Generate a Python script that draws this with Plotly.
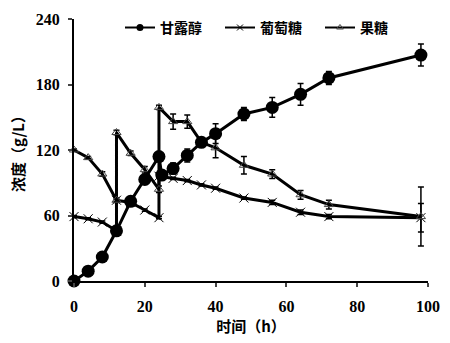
import plotly.graph_objects as go

# 甘露醇 (mannitol)
t_man = [0, 4, 8, 12, 16, 20, 24, 24.8, 28, 32, 36, 40, 48, 56, 64, 72, 98]
v_man = [0, 9, 22, 46, 73, 93, 114, 97, 103, 115, 127, 135, 153, 159, 171, 186, 207]
e_man = [1, 1, 1, 2, 2, 4, 2, 2, 5, 6, 3, 9, 6, 9, 10, 6, 10]

# 葡萄糖 (glucose)
t_glu = [0, 4, 8, 12, 12, 16, 20, 24, 24, 28, 32, 36, 40, 48, 56, 64, 72, 98]
v_glu = [59, 57, 54, 46, 74, 72, 65, 58, 96, 94, 92, 88, 85, 76, 72, 63, 59, 58]
e_glu = [1, 1, 1, 1, 1, 1, 1, 1, 1, 1, 1, 1, 1, 1, 2, 2, 2, 13]

# 果糖 (fructose)
t_fru = [0, 4, 8, 12, 12, 16, 20, 24, 24, 28, 32, 36, 40, 48, 56, 64, 72, 98]
v_fru = [120, 113, 98, 74, 136, 117, 102, 84, 159, 146, 146, 127, 122, 106, 98, 79, 70, 59]
e_fru = [1, 1, 2, 2, 2, 2, 3, 3, 2, 7, 6, 3, 9, 8, 4, 4, 4, 27]

names = ["甘露醇", "葡萄糖", "果糖"]
xticks = [0, 20, 40, 60, 80, 100]
yticks = [0, 60, 120, 180, 240]

num_font = "Liberation Serif, Noto Sans CJK SC"
cjk_font = "Noto Sans CJK SC, Liberation Serif"

fig = go.Figure()
fig.add_trace(go.Scatter(
    x=t_glu, y=v_glu, name=names[1], mode="lines+markers", showlegend=False,
    line=dict(color="black", width=3),
    marker=dict(symbol="x-thin-open", size=9, line=dict(color="#555555", width=1)),
    error_y=dict(type="data", array=e_glu, color="black", thickness=1.5, width=3),
    cliponaxis=False))
fig.add_trace(go.Scatter(
    x=t_fru, y=v_fru, name=names[2], mode="lines+markers", showlegend=False,
    line=dict(color="black", width=3),
    marker=dict(symbol="triangle-up-open", size=8, color="#444444", line=dict(width=1)),
    error_y=dict(type="data", array=e_fru, color="black", thickness=1.5, width=3),
    cliponaxis=False))
fig.add_trace(go.Scatter(
    x=t_man, y=v_man, name=names[0], mode="lines+markers", showlegend=False,
    line=dict(color="black", width=3),
    marker=dict(symbol="circle", size=13, color="black"),
    error_y=dict(type="data", array=e_man, color="black", thickness=1.5, width=3),
    cliponaxis=False))

# legend-only entries (smaller symbols, like the reference), one legend each
fig.add_trace(go.Scatter(x=[None], y=[None], name=names[0], mode="lines+markers", legend="legend",
                         line=dict(color="black", width=2),
                         marker=dict(symbol="circle", size=7, color="black")))
fig.add_trace(go.Scatter(x=[None], y=[None], name=names[1], mode="lines+markers", legend="legend2",
                         line=dict(color="black", width=2),
                         marker=dict(symbol="x-thin-open", size=6, line=dict(color="#555555", width=1))))
fig.add_trace(go.Scatter(x=[None], y=[None], name=names[2], mode="lines+markers", legend="legend3",
                         line=dict(color="black", width=2),
                         marker=dict(symbol="triangle-up-open", size=6, color="#444444", line=dict(width=1))))

leg_common = dict(orientation="h", y=0.966, xanchor="left", yanchor="middle",
                  font=dict(family=cjk_font, size=14, color="black", weight="bold"),
                  itemwidth=30, bgcolor="rgba(0,0,0,0)")

fig.update_layout(
    width=450, height=343,
    margin=dict(l=74, r=22, t=14, b=62),
    paper_bgcolor="white", plot_bgcolor="white",
    showlegend=True,
    legend=dict(x=0.1299, **leg_common),
    legend2=dict(x=0.4124, **leg_common),
    legend3=dict(x=0.6949, **leg_common),
    xaxis=dict(range=[0, 100], tickvals=xticks, ticks="outside", ticklen=4, tickwidth=2,
               showline=True, linecolor="black", linewidth=2, showgrid=False, zeroline=False,
               ticklabelstandoff=6, automargin=False,
               tickfont=dict(family=num_font, size=16, color="black", weight="bold"),
               title=dict(text="时间（h）", font=dict(family=cjk_font, size=15, color="black", weight="bold"), standoff=6)),
    yaxis=dict(range=[0, 240], tickvals=yticks, ticks="outside", ticklen=4, tickwidth=2,
               showline=True, linecolor="black", linewidth=2, showgrid=False, zeroline=False,
               ticklabelstandoff=5, automargin=False,
               tickfont=dict(family=num_font, size=16, color="black", weight="bold"),
               title=dict(text="浓度（g/L）", font=dict(family=cjk_font, size=15, color="black", weight="bold"), standoff=8)),
)

fig.write_html("out.html")
